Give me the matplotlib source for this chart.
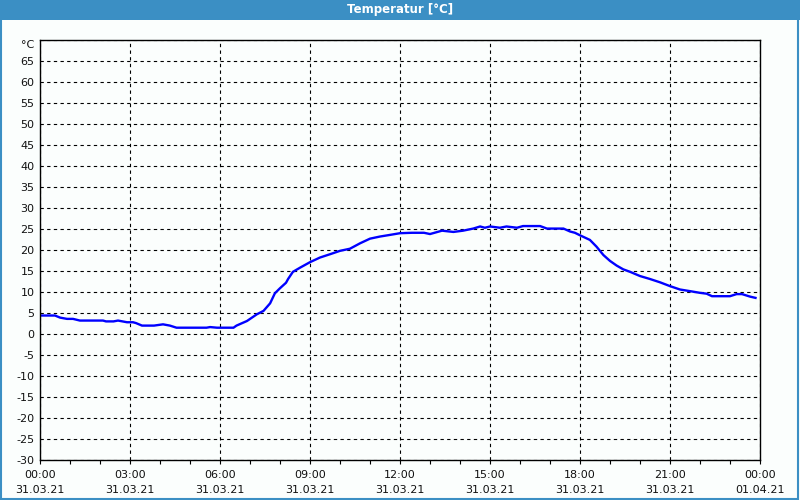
import matplotlib
matplotlib.use('Agg')
import matplotlib.pyplot as plt
from matplotlib.patches import Rectangle

# hours since 31.03.21 00:00 and temperature in degC
hours = [0.0, 0.5, 0.67, 0.9, 1.1, 1.33, 2.1, 2.2, 2.45, 2.6, 2.9, 3.1, 3.2,
         3.4, 3.8, 4.1, 4.33, 4.55, 5.55, 5.67, 5.9, 6.45, 6.55, 6.9, 7.23,
         7.45, 7.67, 7.83, 8.0, 8.2, 8.27, 8.43, 8.67, 9.0, 9.33, 9.67, 10.0,
         10.33, 10.67, 11.0, 11.33, 11.67, 12.0, 12.4, 12.8, 13.0, 13.2, 13.4,
         13.78, 14.1, 14.44, 14.67, 14.83, 15.0, 15.33, 15.55, 15.9, 16.1,
         16.67, 16.9, 17.45, 17.67, 17.83, 18.0, 18.33, 18.55, 18.78, 19.0,
         19.22, 19.44, 19.67, 20.0, 20.33, 20.67, 21.0, 21.33, 21.67, 22.0,
         22.22, 22.4, 23.0, 23.22, 23.4, 23.67, 23.85]
temps = [4.4, 4.4, 3.9, 3.6, 3.6, 3.2, 3.2, 3.0, 3.0, 3.2, 2.8, 2.8, 2.6,
         2.0, 2.0, 2.3, 2.0, 1.5, 1.5, 1.65, 1.5, 1.5, 2.0, 3.1, 4.7,
         5.5, 7.3, 9.7, 10.9, 12.2, 13.1, 14.8, 15.8, 17.1, 18.2, 19.0, 19.8,
         20.3, 21.6, 22.7, 23.2, 23.6, 24.0, 24.1, 24.1, 23.8, 24.2, 24.6,
         24.3, 24.6, 25.1, 25.6, 25.3, 25.6, 25.3, 25.6, 25.3, 25.7,
         25.7, 25.1, 25.1, 24.4, 24.1, 23.5, 22.4, 20.8, 18.8, 17.4,
         16.3, 15.4, 14.8, 13.8, 13.1, 12.3, 11.4, 10.6, 10.2, 9.8,
         9.6, 9.0, 9.0, 9.5, 9.5, 8.9, 8.6]

x_ticks = [0, 3, 6, 9, 12, 15, 18, 21, 24]
x_labels = ['00:00\n31.03.21', '03:00\n31.03.21', '06:00\n31.03.21',
            '09:00\n31.03.21', '12:00\n31.03.21', '15:00\n31.03.21',
            '18:00\n31.03.21', '21:00\n31.03.21', '00:00\n01.04.21']
y_ticks = list(range(-30, 75, 5))
y_labels = [str(v) for v in y_ticks[:-1]] + ['°C']

bar_color = '#3b8fc4'

fig = plt.figure(figsize=(8, 5), dpi=100)
fig.patch.set_facecolor('#fbfefd')

# title bar and window border
fig.patches.append(Rectangle((0, 1 - 20 / 500), 1, 20 / 500, transform=fig.transFigure,
                             facecolor=bar_color, edgecolor='none', zorder=0))
fig.patches.append(Rectangle((0.001, 0.002), 0.997, 0.996, transform=fig.transFigure,
                             fill=False, edgecolor=bar_color, linewidth=1.5, zorder=0))
fig.text(0.5, 1 - 10 / 500, 'Temperatur [°C]', color='white', fontsize=8.5,
         fontweight='bold', ha='center', va='center')

ax = fig.add_axes([40 / 800, 40 / 500, 720 / 800, 420 / 500])
ax.set_facecolor('#fbfefd')
ax.plot(hours, temps, color='#0000ff', linewidth=1.7, solid_joinstyle='miter')

ax.set_xlim(0, 24)
ax.set_ylim(-30, 70)
ax.set_xticks(x_ticks)
ax.set_xticklabels(x_labels, fontsize=8, color='#111111', linespacing=1.6)
ax.set_xticks(range(0, 25), minor=True)
ax.set_yticks(y_ticks)
ylabs = ax.set_yticklabels(y_labels, fontsize=8, color='#111111')
ylabs[-1].set_va('top')

ax.tick_params(axis='x', which='both', direction='out', length=3, width=0.8, pad=4)
ax.tick_params(axis='y', length=0, pad=4)

ax.grid(True, which='major', color='black', linestyle=(0, (3, 3)), linewidth=0.8)
for s in ax.spines.values():
    s.set_linewidth(1.0)
    s.set_color('black')

fig.savefig('out.png', dpi=100, facecolor=fig.get_facecolor())
